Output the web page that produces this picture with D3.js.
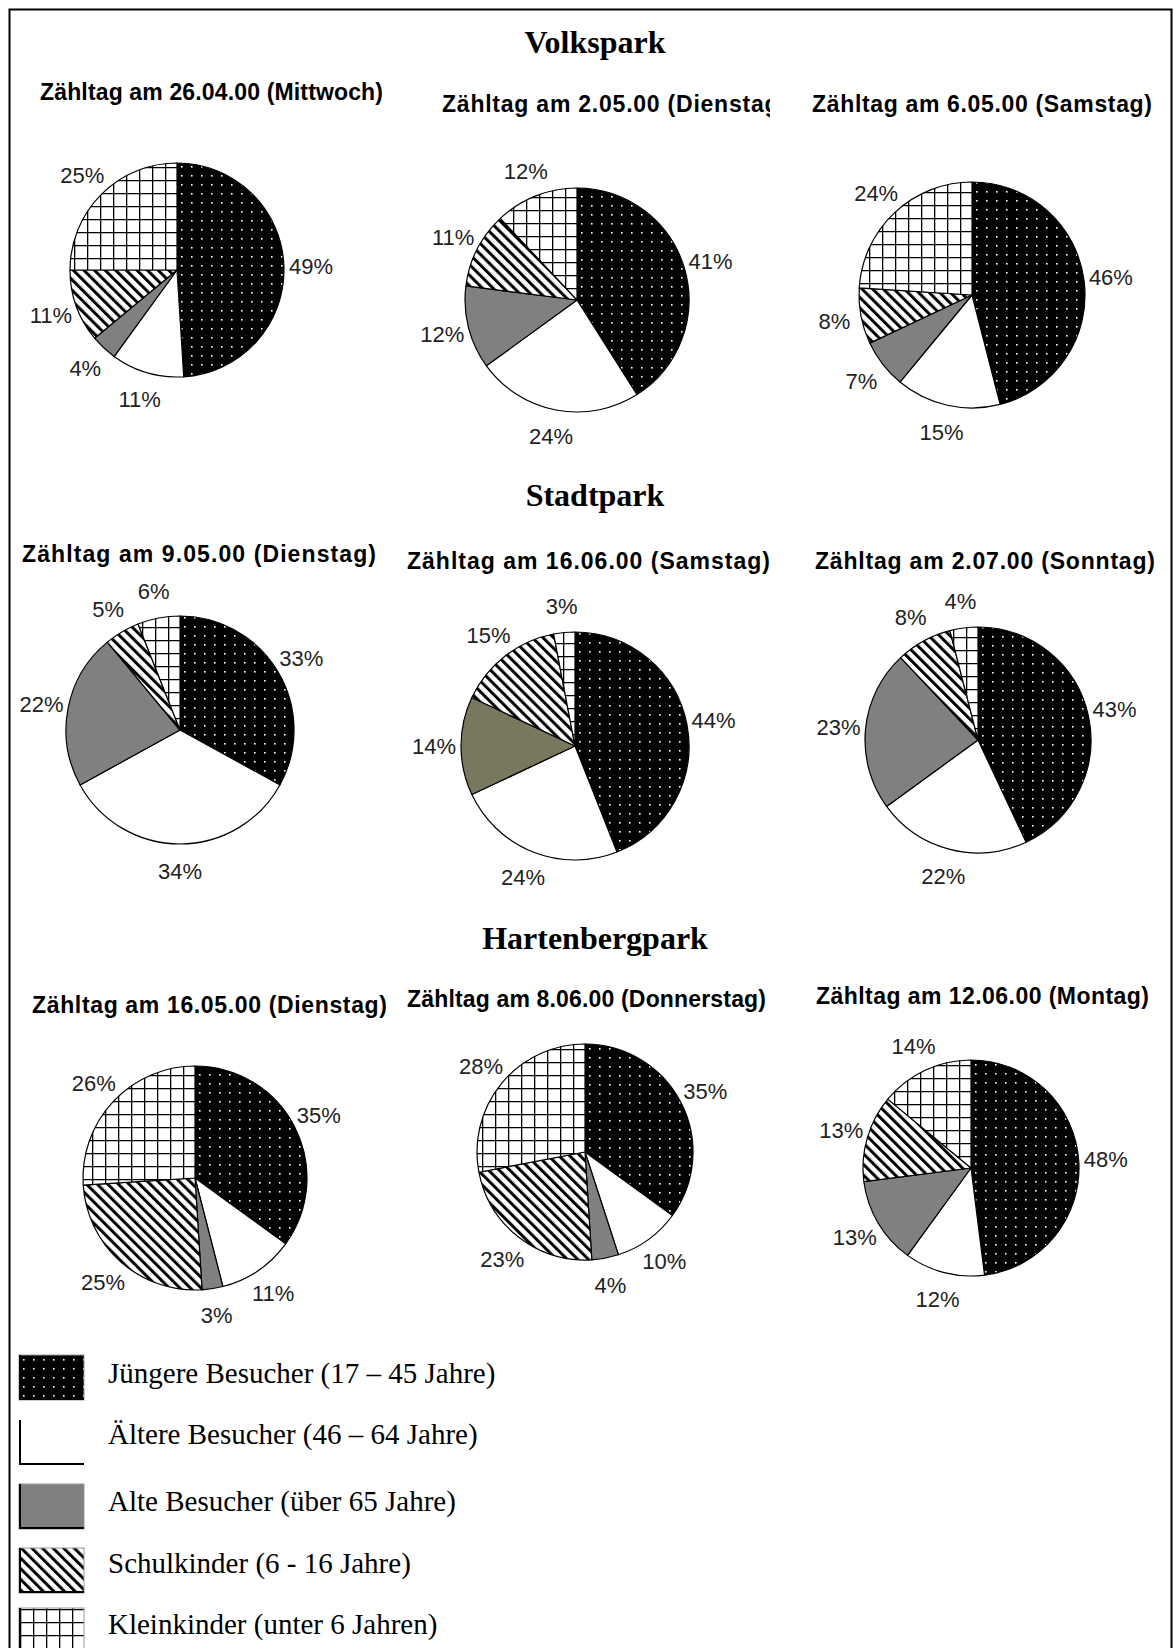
<!DOCTYPE html>
<html>
<head>
<meta charset="utf-8">
<script src="https://cdn.jsdelivr.net/npm/d3@7"></script>
<style>
  body { margin: 0; background: #fff; }
  .park { font-family: "Liberation Serif", "Times New Roman", serif; font-weight: bold; font-size: 32px; }
  .day { font-family: "Liberation Sans", Arial, sans-serif; font-weight: bold; font-size: 23px; }
  .pct { font-family: "Liberation Sans", Arial, sans-serif; font-size: 22px; fill: #222; }
  .leg { font-family: "Liberation Serif", "Times New Roman", serif; font-size: 29px; }
</style>
</head>
<body>
<svg id="chart" width="1174" height="1648"></svg>
<script>
// visitor groups, clockwise from 12 o'clock
const categories = [
  "Jüngere Besucher (17 – 45 Jahre)",
  "Ältere Besucher (46 – 64 Jahre)",
  "Alte Besucher (über 65 Jahre)",
  "Schulkinder (6 - 16 Jahre)",
  "Kleinkinder (unter 6 Jahren)"
];
const parks = ["Volkspark", "Stadtpark", "Hartenbergpark"];
const countDays = [
  ["Zähltag am 26.04.00 (Mittwoch)", "Zähltag am 2.05.00 (Dienstag)", "Zähltag am 6.05.00 (Samstag)"],
  ["Zähltag am 9.05.00 (Dienstag)", "Zähltag am 16.06.00 (Samstag)", "Zähltag am 2.07.00 (Sonntag)"],
  ["Zähltag am 16.05.00 (Dienstag)", "Zähltag am 8.06.00 (Donnerstag)", "Zähltag am 12.06.00 (Montag)"]
];
// percent per group, one row per count day
const volkspark = [[49, 11, 4, 11, 25], [41, 24, 12, 11, 12], [46, 15, 7, 8, 24]];
const stadtpark = [[33, 34, 22, 5, 6], [44, 24, 14, 15, 3], [43, 22, 23, 8, 4]];
const hartenbergpark = [[35, 11, 3, 25, 26], [35, 10, 4, 23, 28], [48, 12, 13, 13, 14]];

// layout only (pixel positions)
const titleY = [53, 506, 949];
const pieBox = [
  [{cx: 177, cy: 270, r: 107, tx: 40, ty: 100, tw: 343}, {cx: 577, cy: 300, r: 112, tx: 442, ty: 112, tw: 345, clip: 770}, {cx: 972, cy: 295, r: 113, tx: 812, ty: 112, tw: 340}],
  [{cx: 180, cy: 730, r: 114, tx: 22, ty: 562, tw: 354}, {cx: 575, cy: 746, r: 114, tx: 407, ty: 569, tw: 363, olive: true}, {cx: 978, cy: 740, r: 113, tx: 815, ty: 569, tw: 340}],
  [{cx: 195, cy: 1178, r: 112, tx: 32, ty: 1013, tw: 355}, {cx: 585, cy: 1152, r: 108, tx: 407, ty: 1007, tw: 359}, {cx: 971, cy: 1168, r: 108, tx: 816, ty: 1004, tw: 333}]
];
const fills = ["url(#dots)", "#fff", "#808080", "url(#hatch)", "url(#grid)"];

const svg = d3.select("#chart");
const defs = svg.append("defs");

let p = defs.append("pattern").attr("id", "dots").attr("patternUnits", "userSpaceOnUse")
  .attr("width", 10).attr("height", 9);
p.append("rect").attr("width", 10).attr("height", 9).attr("fill", "#000");
p.append("rect").attr("x", 4).attr("y", 4).attr("width", 1.6).attr("height", 1.6).attr("fill", "#fff");

p = defs.append("pattern").attr("id", "hatch").attr("patternUnits", "userSpaceOnUse")
  .attr("width", 7.5).attr("height", 7.5).attr("patternTransform", "rotate(-45)");
p.append("rect").attr("width", 7.5).attr("height", 7.5).attr("fill", "#fff");
p.append("rect").attr("width", 3).attr("height", 7.5).attr("fill", "#000");

p = defs.append("pattern").attr("id", "grid").attr("patternUnits", "userSpaceOnUse")
  .attr("width", 13).attr("height", 13).attr("x", 1).attr("y", 1);
p.append("rect").attr("width", 13).attr("height", 13).attr("fill", "#fff");
p.append("path").attr("d", "M0,0.5H13M0.5,0V13").attr("stroke", "#000").attr("stroke-width", 1.6);

// frame
svg.append("rect").attr("x", 9.5).attr("y", 9.5).attr("width", 1162).attr("height", 1700)
  .attr("fill", "none").attr("stroke", "#000").attr("stroke-width", 2);

const pie = d3.pie().sort(null).value(d => d);
const allParks = [volkspark, stadtpark, hartenbergpark];

allParks.forEach(function(rows, i) {
  svg.append("text").attr("class", "park")
    .attr("x", 595).attr("y", titleY[i]).attr("text-anchor", "middle")
    .text(parks[i]);

  rows.forEach(function(values, j) {
    const b = pieBox[i][j];
    const arc = d3.arc().innerRadius(0).outerRadius(b.r);
    const labelArc = d3.arc().innerRadius(b.r + 27).outerRadius(b.r + 27);

    const t = svg.append("text").attr("class", "day")
      .attr("x", b.tx).attr("y", b.ty)
      .attr("textLength", b.tw).attr("lengthAdjust", "spacing")
      .text(countDays[i][j]);
    if (b.clip) {
      defs.append("clipPath").attr("id", "clip" + i + j)
        .append("rect").attr("x", 0).attr("y", b.ty - 30).attr("width", b.clip).attr("height", 40);
      t.attr("clip-path", "url(#clip" + i + j + ")");
    }

    const g = svg.append("g").attr("transform", "translate(" + b.cx + "," + b.cy + ")");
    g.selectAll("path")
      .data(pie(values))
      .enter()
      .append("path")
      .attr("d", arc)
      .attr("fill", function(d, k) {
        if (k === 2 && b.olive) return "#79785f";
        return fills[k];
      })
      .attr("stroke", "#000")
      .attr("stroke-width", 1.2)
      .attr("stroke-linejoin", "round");

    g.selectAll(".pct")
      .data(pie(values))
      .enter()
      .append("text")
      .attr("class", "pct")
      .attr("transform", d => "translate(" + labelArc.centroid(d) + ")")
      .attr("text-anchor", "middle")
      .attr("dy", "0.36em")
      .text(d => d.data + "%");
  });
});

// legend
const legendY = [1355, 1420, 1484, 1548, 1608];
const leg = svg.selectAll(".legItem")
  .data(categories)
  .enter()
  .append("g")
  .attr("class", "legItem")
  .attr("transform", (d, k) => "translate(19," + legendY[k] + ")");

leg.append("rect")
  .attr("width", 65).attr("height", 45)
  .attr("fill", (d, k) => fills[k])
  .attr("stroke", (d, k) => k === 1 ? "none" : "#999")
  .attr("stroke-width", 1);
leg.append("path")
  .attr("d", "M1,0V44H65")
  .attr("fill", "none")
  .attr("stroke", "#000")
  .attr("stroke-width", 2);
leg.append("text")
  .attr("class", "leg")
  .attr("x", 89).attr("y", (d, k) => [28, 24, 27, 25, 26][k])
  .text(d => d);
</script>
</body>
</html>
